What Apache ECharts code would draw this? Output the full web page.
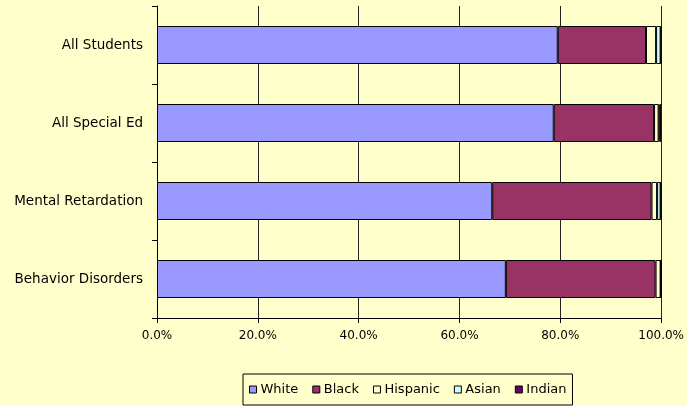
<!DOCTYPE html>
<html>
<head>
<meta charset="utf-8">
<script src="https://cdn.jsdelivr.net/npm/echarts@6/dist/echarts.min.js"></script>
<style>
  html, body { margin: 0; padding: 0; background: #FFFFCC; }
  #chart { width: 687px; height: 406px; }
</style>
</head>
<body>
<div id="chart"></div>
<script>
var categories = ['All Students', 'All Special Ed', 'Mental Retardation', 'Behavior Disorders'];
var white    = [79.5, 78.7, 66.5, 69.2];
var black    = [17.5, 19.9, 31.6, 29.7];
var hispanic = [2.0, 0.9, 1.1, 1.0];
var asian    = [0.9, 0.2, 0.7, 0.1];
var indian   = [0.1, 0.3, 0.1, 0.0];
var xTicks = [0, 20, 40, 60, 80, 100];

var names = ['White', 'Black', 'Hispanic', 'Asian', 'Indian'];
var colors = ['#9999FF', '#993366', '#FFFFCC', '#CCFFFF', '#660066'];
var values = [white, black, hispanic, asian, indian];

var chart = echarts.init(document.getElementById('chart'));

var series = [];
for (var i = 0; i < names.length; i++) {
    series.push({
        name: names[i],
        type: 'bar',
        stack: 'total',
        barWidth: 38,
        data: values[i],
        itemStyle: { color: colors[i], borderColor: '#000', borderWidth: 1 }
    });
}

var option = {
    backgroundColor: '#FFFFCC',
    animation: false,
    textStyle: { fontFamily: 'DejaVu Sans', color: '#000' },
    grid: { left: 157, right: 25, top: 6, bottom: 88 },
    legend: {
        data: names,
        left: 243,
        top: 374,
        width: 360,
        padding: [9, 6, 9, 6],
        itemGap: 14,
        itemWidth: 7,
        itemHeight: 7,
        icon: 'rect',
        borderColor: '#000',
        borderWidth: 1,
        textStyle: { fontSize: 13, color: '#000', padding: [0, 0, 0, -1] },
        itemStyle: { borderColor: '#000', borderWidth: 1 }
    },
    xAxis: {
        type: 'value',
        min: xTicks[0],
        max: xTicks[xTicks.length - 1],
        interval: 20,
        axisLine: { show: true, lineStyle: { color: '#000' } },
        axisTick: { show: true, length: 5, lineStyle: { color: '#000' } },
        splitLine: { show: true, lineStyle: { color: '#222', width: 1 } },
        axisLabel: {
            fontSize: 12, color: '#000', margin: 12,
            formatter: function (v) { return v.toFixed(1) + '%'; }
        }
    },
    yAxis: {
        type: 'category',
        inverse: true,
        data: categories,
        axisLine: { show: true, lineStyle: { color: '#000' } },
        axisTick: { show: true, length: 5, lineStyle: { color: '#000' } },
        axisLabel: { fontSize: 13.5, color: '#000', margin: 14 }
    },
    series: series
};

chart.setOption(option);
</script>
</body>
</html>
